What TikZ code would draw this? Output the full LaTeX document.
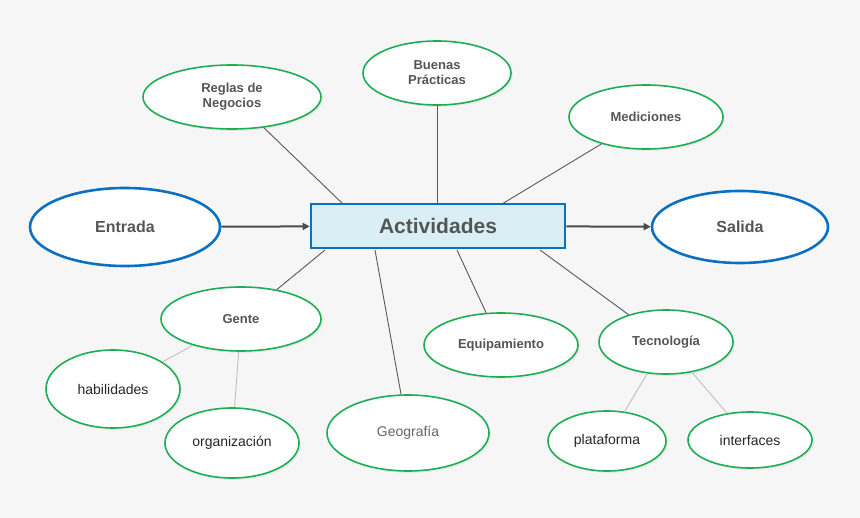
\documentclass[tikz,border=0pt]{standalone}
\usepackage{fontspec}
\setmainfont{Liberation Sans}
\usetikzlibrary{arrows.meta,shadows,shapes.geometric}
\definecolor{bg}{HTML}{F6F6F6}
\definecolor{gr}{HTML}{1DAE55}
\definecolor{bl}{HTML}{0B70C2}
\definecolor{tx}{HTML}{555555}
\definecolor{lb}{HTML}{DAEEF5}
\tikzset{
 el/.style={ellipse,draw=gr,line width=1.6pt,fill=white,inner sep=0pt,minimum width=#1,text=tx,font=\fontsize{13}{15}\selectfont\bfseries,align=center,drop shadow={shadow xshift=2pt,shadow yshift=-2pt,fill=black!12}},
 sub/.style={el=#1,font=\fontsize{14}{16}\selectfont,text=black!85},
 io/.style={ellipse,draw=bl,line width=2.6pt,fill=white,text=tx,font=\fontsize{16}{18}\selectfont\bfseries,minimum width=#1},
 ln/.style={draw=black!65,line width=0.9pt},
 sl/.style={draw=black!25,line width=0.9pt},
 ar/.style={draw=black!70,line width=2pt,-{Triangle[length=7pt,width=7pt]}}
}
\begin{document}
\begin{tikzpicture}[x=1pt,y=-1pt]
\fill[bg] (0,0) rectangle (860,518);
\useasboundingbox (0,0) rectangle (860,518);
\node[draw=bl,line width=2.6pt,fill=lb,minimum width=254pt,minimum height=44pt,text=tx,font=\fontsize{21}{24}\selectfont\bfseries] (act) at (438,226) {Actividades};
\node[el=178pt,minimum height=64pt] (reg) at (232,97) {Reglas de\\Negocios};
\node[el=148pt,minimum height=64pt] (bue) at (437,73) {Buenas\\Prácticas};
\node[el=154pt,minimum height=64pt] (med) at (646,117) {Mediciones};
\node[io=190pt,minimum height=78pt] (ent) at (125,227) {Entrada};
\node[io=176pt,minimum height=72pt] (sal) at (740,227) {Salida};
\node[el=160pt,minimum height=64pt] (gen) at (241,319) {Gente};
\node[sub=134pt,minimum height=78pt] (hab) at (113,389) {habilidades};
\node[sub=134pt,minimum height=70pt] (org) at (232,443) {organización};
\node[sub=162pt,minimum height=76pt,text=black!60] (geo) at (408,433) {Geografía};
\node[el=154pt,minimum height=64pt] (equ) at (501,345) {Equipamiento};
\node[el=134pt,minimum height=64pt] (tec) at (666,342) {Tecnología};
\node[sub=118pt,minimum height=60pt] (pla) at (607,441) {plataforma};
\node[sub=124pt,minimum height=56pt] (int) at (750,440) {interfaces};
\coordinate (a1) at (343,204); \coordinate (a2) at (437,204); \coordinate (a3) at (502,204);
\coordinate (b1) at (325,250); \coordinate (b2) at (375,250); \coordinate (b3) at (457,250); \coordinate (b4) at (540,250);
\draw[ln] (reg) -- (a1);
\draw[ln] (bue) -- (a2);
\draw[ln] (med) -- (a3);
\draw[ln] (gen) -- (b1);
\draw[ln] (geo) -- (b2);
\draw[ln] (equ) -- (b3);
\draw[ln] (tec) -- (b4);
\draw[sl] (gen) -- (hab);
\draw[sl] (gen) -- (org);
\draw[sl] (tec) -- (pla);
\draw[sl] (tec) -- (int);
\draw[ar] (ent) -- (act);
\draw[ar] (act) -- (sal);
\end{tikzpicture}
\end{document}
